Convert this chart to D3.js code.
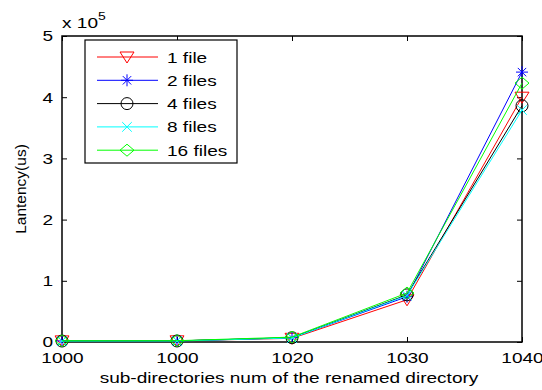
<!DOCTYPE html>
<html>
<head>
<meta charset="utf-8">
<script src="https://cdn.jsdelivr.net/npm/d3@7"></script>
<style>
  body { margin: 0; background: #fff; }
  svg { display: block; font-family: "Liberation Sans", Arial, sans-serif; }
</style>
</head>
<body>
<svg id="chart" width="542" height="390"></svg>
<script>
// Data
const xLabels = ["1000", "1000", "1020", "1030", "1040"];
const oneFile = [1800, 1900, 6000, 69000, 400000];
const twoFiles = [1700, 1800, 7000, 74000, 441000];
const fourFiles = [1600, 1700, 7000, 77000, 386000];
const eightFiles = [1500, 1600, 6500, 76000, 379000];
const sixteenFiles = [2000, 2100, 8000, 80000, 423000];
const seriesNames = ["1 file", "2 files", "4 files", "8 files", "16 files"];
const yTicks = [0, 100000, 200000, 300000, 400000, 500000];

const series = [
  { name: seriesNames[0], values: oneFile, color: "#ff0000", marker: "triangle" },
  { name: seriesNames[1], values: twoFiles, color: "#0000ff", marker: "asterisk" },
  { name: seriesNames[2], values: fourFiles, color: "#000000", marker: "circle" },
  { name: seriesNames[3], values: eightFiles, color: "#00ffff", marker: "cross" },
  { name: seriesNames[4], values: sixteenFiles, color: "#00ff00", marker: "diamond" }
];

const margin = { left: 62, right: 20, top: 36, bottom: 48 };
const width = 542, height = 390;
const sx = 1.27; // the original picture is stretched horizontally
const svg = d3.select("#chart");

const x = d3.scalePoint()
  .domain(d3.range(xLabels.length))
  .range([margin.left, width - margin.right]);

const y = d3.scaleLinear()
  .domain([0, 500000])
  .range([height - margin.bottom, margin.top]);

const plotW = width - margin.right - margin.left;
const plotH = height - margin.bottom - margin.top;

// Axes (ticks pointing inward, MATLAB style)
const tickLen = 5;
const axisBottom = svg.append("g")
  .attr("transform", `translate(0,${height - margin.bottom})`)
  .call(d3.axisBottom(x).tickSize(-tickLen).tickPadding(10).tickFormat(i => xLabels[i]));
const axisTop = svg.append("g")
  .attr("transform", `translate(0,${margin.top})`)
  .call(d3.axisTop(x).tickSize(-tickLen).tickFormat(""));
const axisLeft = svg.append("g")
  .attr("transform", `translate(${margin.left},0)`)
  .call(d3.axisLeft(y).tickValues(yTicks).tickSize(-tickLen).tickPadding(7).tickFormat(d => d / 1e5));
const axisRight = svg.append("g")
  .attr("transform", `translate(${width - margin.right},0)`)
  .call(d3.axisRight(y).tickValues(yTicks).tickSize(-tickLen).tickFormat(""));

[axisBottom, axisTop, axisLeft, axisRight].forEach(a => {
  a.select(".domain").remove();
  a.selectAll("line").attr("stroke", "#000");
  a.selectAll("text")
    .attr("fill", "#000")
    .attr("transform", `scale(${sx},1)`)
    .style("font-size", "15px")
    .style("font-family", "Liberation Sans, Arial, sans-serif");
});

svg.append("rect")
  .attr("x", margin.left).attr("y", margin.top)
  .attr("width", plotW).attr("height", plotH)
  .attr("fill", "none").attr("stroke", "#000").attr("stroke-width", 1.5);

// Exponent label
const expo = svg.append("text")
  .attr("transform", `translate(62,28) scale(${sx},1)`)
  .style("font-size", "15px");
expo.append("tspan").text("x 10");
expo.append("tspan").attr("dy", -8).style("font-size", "11px").text("5");

// Axis titles
svg.append("text")
  .attr("transform", `translate(289,383) scale(${sx},1)`)
  .attr("text-anchor", "middle")
  .style("font-size", "15px")
  .text("sub-directories num of the renamed directory");

svg.append("text")
  .attr("transform", `translate(26,${(margin.top + height - margin.bottom) / 2}) rotate(-90)`)
  .attr("text-anchor", "middle")
  .style("font-size", "15.5px")
  .text("Lantency(us)");

// Marker drawing
function drawMarker(g, type, color, cx, cy) {
  const s = 6;
  const m = g.append("g").attr("transform", `translate(${cx},${cy})`)
    .attr("fill", "none").attr("stroke", color).attr("stroke-width", 1);
  if (type === "triangle") {
    m.append("path").attr("d", `M${-7},${-5}L${7},${-5}L0,${6}Z`);
  } else if (type === "circle") {
    m.append("circle").attr("r", s);
  } else if (type === "diamond") {
    m.append("path").attr("d", `M0,${-s}L${s + 1},0L0,${s}L${-s - 1},0Z`);
  } else if (type === "cross") {
    m.append("path").attr("d", `M${-s * 0.8},${-s * 0.8}L${s * 0.8},${s * 0.8}M${-s * 0.8},${s * 0.8}L${s * 0.8},${-s * 0.8}`);
  } else if (type === "asterisk") {
    m.append("path").attr("d",
      `M${-s},0L${s},0M0,${-s}L0,${s}M${-s * 0.7},${-s * 0.7}L${s * 0.7},${s * 0.7}M${-s * 0.7},${s * 0.7}L${s * 0.7},${-s * 0.7}`);
  }
}

// Lines and markers
const line = d3.line()
  .x((d, i) => x(i))
  .y(d => y(d));

series.forEach(s => {
  svg.append("path")
    .datum(s.values)
    .attr("fill", "none")
    .attr("stroke", s.color)
    .attr("stroke-width", 1)
    .attr("d", line);
  const mg = svg.append("g");
  s.values.forEach((v, i) => drawMarker(mg, s.marker, s.color, x(i), y(v)));
});

// Legend
const legend = svg.append("g");
legend.append("rect")
  .attr("x", 85).attr("y", 40)
  .attr("width", 152).attr("height", 123)
  .attr("fill", "#fff").attr("stroke", "#000").attr("stroke-width", 1.2);

series.forEach((s, i) => {
  const ly = 57 + i * 23.3;
  legend.append("line")
    .attr("x1", 97).attr("x2", 158)
    .attr("y1", ly).attr("y2", ly)
    .attr("stroke", s.color).attr("stroke-width", 1);
  drawMarker(legend, s.marker, s.color, 127, ly);
  legend.append("text")
    .attr("transform", `translate(167,${ly + 5.5}) scale(${sx},1)`)
    .style("font-size", "15px")
    .text(s.name);
});
</script>
</body>
</html>
